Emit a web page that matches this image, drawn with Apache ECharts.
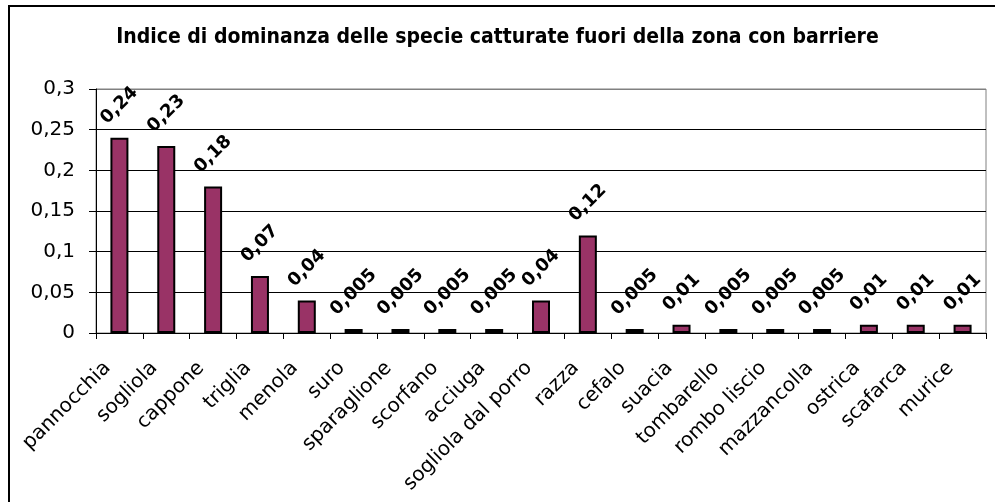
<!DOCTYPE html>
<html>
<head>
<meta charset="utf-8">
<script src="https://cdn.jsdelivr.net/npm/echarts@6/dist/echarts.min.js"></script>
<style>
  html, body { margin: 0; padding: 0; background: #fff; }
  #chart { width: 995px; height: 502px; }
</style>
</head>
<body>
<div id="chart"></div>
<script>
// Species caught outside the barrier zone and their dominance index
const species = [
  'pannocchia', 'sogliola', 'cappone', 'triglia', 'menola', 'suro',
  'sparaglione', 'scorfano', 'acciuga', 'sogliola dal porro', 'razza',
  'cefalo', 'suacia', 'tombarello', 'rombo liscio', 'mazzancolla',
  'ostrica', 'scafarca', 'murice'
];
const dominance = [
  0.24, 0.23, 0.18, 0.07, 0.04, 0.005,
  0.005, 0.005, 0.005, 0.04, 0.12,
  0.005, 0.01, 0.005, 0.005, 0.005,
  0.01, 0.01, 0.01
];
const yTicks = [0, 0.05, 0.1, 0.15, 0.2, 0.25, 0.3];

const FONT = '"DejaVu Sans", Verdana, sans-serif';
const VALUE_FONT_SIZE = 18;

// Italian decimal comma
const fmt = v => String(v).replace('.', ',');

// Measure label text so the rotated value labels sit just above each bar
const measureCtx = document.createElement('canvas').getContext('2d');
measureCtx.font = 'bold ' + VALUE_FONT_SIZE + 'px ' + FONT;
function labelDistance(text) {
  const w = measureCtx.measureText(text).width;
  return 12 + (w + 13) / (2 * Math.SQRT2);
}

const barData = dominance.map(v => ({
  value: v,
  label: { distance: labelDistance(fmt(v)) }
}));

const chart = echarts.init(document.getElementById('chart'), null, { renderer: 'canvas' });

chart.setOption({
  backgroundColor: '#ffffff',
  animation: false,
  title: {
    text: 'Indice di dominanza delle specie catturate fuori della zona con barriere',
    left: 'center',
    top: 22,
    textStyle: {
      fontFamily: '"Liberation Sans Narrow", "DejaVu Sans Condensed", "DejaVu Sans", sans-serif',
      fontWeight: 'bold',
      fontSize: 21,
      color: '#000'
    }
  },
  graphic: [{
    type: 'rect',
    silent: true,
    z: -1,
    shape: { x: 9, y: 6, width: 1100, height: 700 },
    style: { fill: 'none', stroke: '#000', lineWidth: 2 }
  }],
  grid: {
    left: 96,
    right: 9,
    top: 89,
    bottom: 169,
    show: true,
    borderColor: '#808080',
    borderWidth: 1,
    backgroundColor: '#ffffff'
  },
  xAxis: {
    type: 'category',
    data: species,
    boundaryGap: true,
    axisLine: { lineStyle: { color: '#000', width: 1 } },
    axisTick: { show: true, alignWithLabel: false, length: 6, lineStyle: { color: '#000' } },
    axisLabel: {
      interval: 0,
      rotate: 45,
      margin: 20,
      padding: [0, 17, 0, 0],
      fontFamily: FONT,
      fontSize: 20,
      color: '#000'
    }
  },
  yAxis: {
    type: 'value',
    min: 0,
    max: 0.3,
    interval: 0.05,
    axisLine: { show: true, lineStyle: { color: '#000', width: 1 } },
    axisTick: { show: true, length: 7, lineStyle: { color: '#000' } },
    axisLabel: {
      margin: 21,
      fontFamily: FONT,
      fontSize: 20,
      color: '#000',
      formatter: v => {
        const t = yTicks.find(x => Math.abs(x - v) < 1e-9);
        return fmt(t !== undefined ? t : v);
      }
    },
    splitLine: {
      show: true,
      lineStyle: {
        color: ['#000', '#000', '#000', '#000', '#000', '#000', '#808080'],
        width: 1
      }
    }
  },
  series: [{
    type: 'bar',
    data: barData,
    barWidth: 18,
    itemStyle: {
      color: '#993366',
      borderColor: '#000',
      borderWidth: 2
    },
    label: {
      show: true,
      position: 'top',
      rotate: 45,
      align: 'center',
      verticalAlign: 'middle',
      fontFamily: FONT,
      fontWeight: 'bold',
      fontSize: VALUE_FONT_SIZE,
      color: '#000',
      formatter: p => fmt(p.value)
    }
  }]
});
</script>
</body>
</html>
